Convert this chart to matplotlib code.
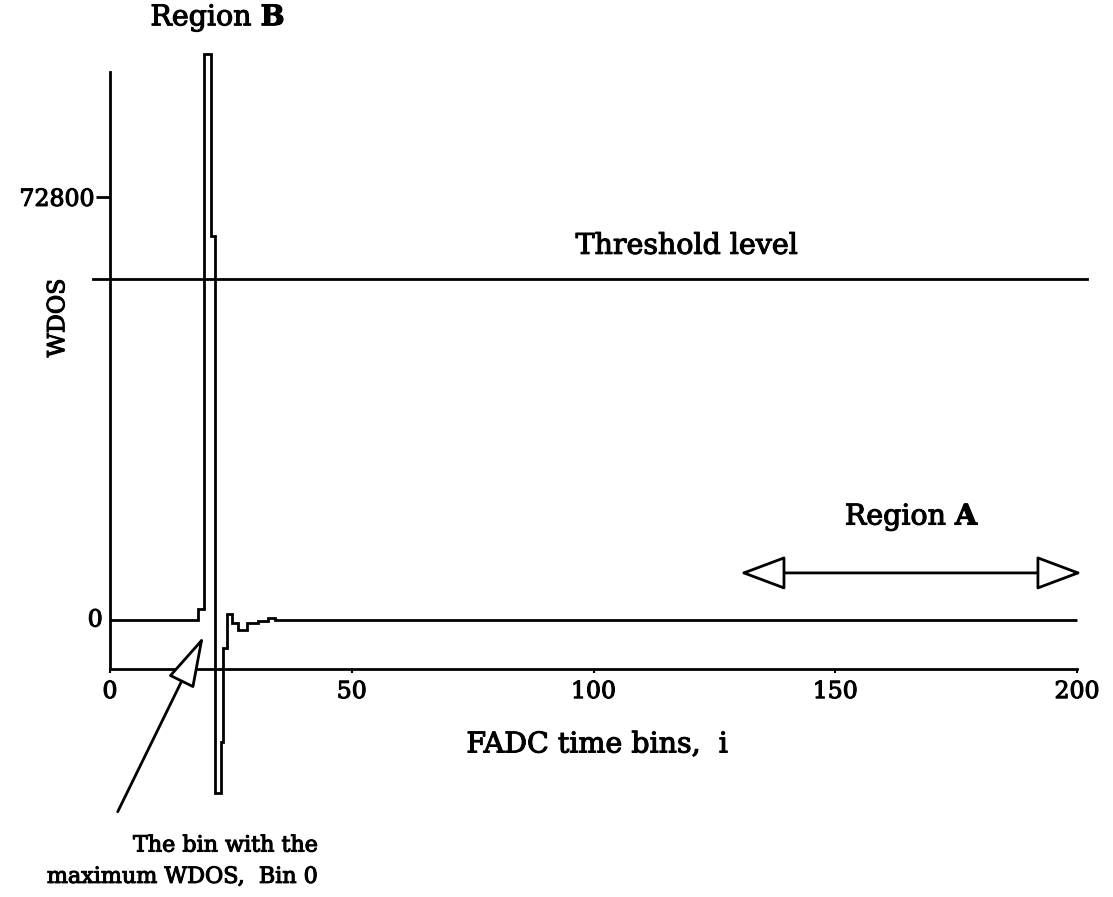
import matplotlib
matplotlib.use('Agg')
import matplotlib.pyplot as plt
import matplotlib.patheffects as pe

plt.rcParams['font.family'] = 'DejaVu Serif'
plt.rcParams['mathtext.fontset'] = 'dejavuserif'

# step waveform (bin edges and WDOS level in each step)
bin_edges = [0, 18.2, 19.4, 20.9, 21.7, 23.0, 23.4, 24.3, 25.2, 26.5, 28.3, 30.6, 32.7, 34.1, 200]
wdos = [0, 1900, 97400, 66100, -29800, -21000, -4800, 1000, -500, -1700, -500, -200, 300, 0]

threshold = 58600
threshold_span = [-3.5, 202]
region_a = [130.3, 201.0]
region_a_y = 8100
max_bin = (19.4, -2750)
max_bin_tail = (1.6, -33000)

xticks = [0, 50, 100, 150, 200]
ytick = 72800

# scanned print has heavy strokes, thicken the glyphs a bit
heavy = [pe.withStroke(linewidth=0.8, foreground='black')]

fig = plt.figure(figsize=(11.13, 8.97), dpi=100)
ax = fig.add_axes([0.0988, 0.2542, 0.8689, 0.6656])
ax.set_xlim(0, 200)
ax.set_ylim(-8430, 94300)

lw = 2.0
ax.stairs(wdos, bin_edges, baseline=None, color='black', lw=lw, clip_on=False)
ax.plot(threshold_span, [threshold, threshold], color='black', lw=lw, clip_on=False)

# axes
for s in ['top', 'right']:
    ax.spines[s].set_visible(False)
for s in ['left', 'bottom']:
    ax.spines[s].set_linewidth(lw)

ax.set_xticks(xticks)
ax.set_xticklabels([str(t) for t in xticks])
ax.tick_params(axis='x', direction='out', length=3, width=1.5, pad=5, labelsize=17)
ax.set_yticks([ytick])
ax.set_yticklabels([str(ytick)])
ax.tick_params(axis='y', direction='out', length=10, width=lw, pad=1, labelsize=17)
ax.text(-1.5, 0, '0', ha='right', va='center', fontsize=17, path_effects=heavy)
for lab in ax.get_xticklabels() + ax.get_yticklabels():
    lab.set_path_effects(heavy)

# labels
fs = 20.5
ax.text(-10.8, 52000, 'WDOS', rotation=90, ha='center', va='center', fontsize=17,
        path_effects=heavy)
ax.text(100.7, -21500, 'FADC time bins,  i', ha='center', va='center', fontsize=fs,
        path_effects=heavy)
ax.text(119.3, 64300, 'Threshold level', ha='center', va='center', fontsize=fs,
        path_effects=heavy)
ax.text(22.3, 103600, r'Region $\mathbf{B}$', ha='center', va='center', fontsize=fs,
        path_effects=heavy)
ax.text(165.9, 17700, r'Region $\mathbf{A}$', ha='center', va='center', fontsize=fs,
        path_effects=heavy)

ax.annotate('', xy=(region_a[0], region_a_y), xytext=(region_a[1], region_a_y),
            arrowprops=dict(arrowstyle='<|-|>,head_length=1.6,head_width=0.6',
                            fc='white', ec='black', lw=lw, shrinkA=0, shrinkB=0,
                            mutation_scale=18),
            annotation_clip=False)

ax.annotate('', xy=max_bin, xytext=max_bin_tail,
            arrowprops=dict(arrowstyle='-|>,head_length=1.8,head_width=0.5',
                            fc='white', ec='black', lw=lw, shrinkA=0, shrinkB=0,
                            mutation_scale=18),
            annotation_clip=False)
ax.text(43.0, -41500, 'The bin with the\nmaximum WDOS,  Bin 0', ha='right', va='center',
        multialignment='right', fontsize=16, linespacing=1.55, path_effects=heavy)

fig.savefig('out.png', dpi=100)
